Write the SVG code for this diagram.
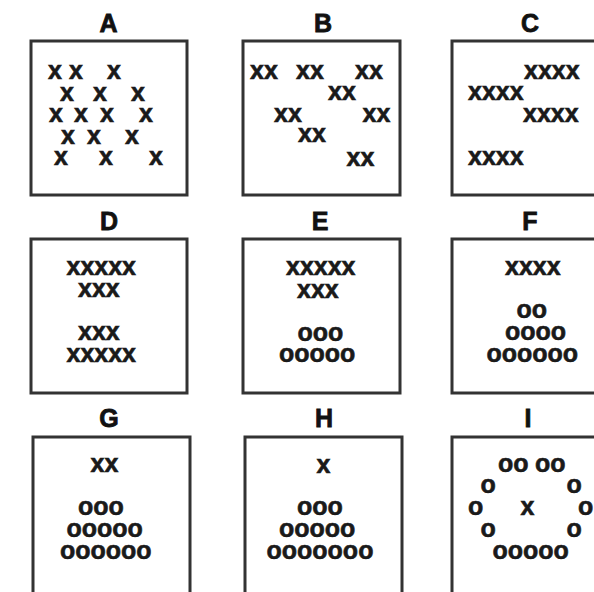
<svg xmlns="http://www.w3.org/2000/svg" width="594" height="592" viewBox="0 0 594 592">
<style>
.box{fill:#fff;stroke:#333;stroke-width:3}
.lbl{font-family:"Liberation Sans",Arial,sans-serif;font-weight:bold;font-size:25px;fill:#111;stroke:#111;stroke-width:0.8;text-anchor:middle}
.m{font-family:"Liberation Sans",Arial,sans-serif;font-weight:bold;font-size:25px;fill:#1a1a1a;stroke:#1a1a1a;stroke-width:0.6}
</style>
<rect width="594" height="592" fill="#fff"/>
<g id="panel-A">
<text class="lbl" x="108.5" y="32">A</text>
<rect class="box" x="31" y="41" width="156" height="154"/>
<text class="m" x="48" y="78.5">x</text><text class="m" x="69" y="78.5">x</text><text class="m" x="107" y="78.5">x</text>
<text class="m" x="60" y="100.5">x</text><text class="m" x="93" y="100.5">x</text><text class="m" x="131" y="100.5">x</text>
<text class="m" x="49" y="122">x</text><text class="m" x="74" y="122">x</text><text class="m" x="100" y="122">x</text><text class="m" x="139" y="122">x</text>
<text class="m" x="61" y="143.5">x</text><text class="m" x="87" y="143.5">x</text><text class="m" x="125" y="143.5">x</text>
<text class="m" x="54" y="165">x</text><text class="m" x="99" y="165">x</text><text class="m" x="149" y="165">x</text>
</g>
<g id="panel-B">
<text class="lbl" x="323" y="32">B</text>
<rect class="box" x="243" y="41" width="157" height="154"/>
<text class="m" x="250" y="78.5">xx</text><text class="m" x="296" y="78.5">xx</text><text class="m" x="355" y="78.5">xx</text>
<text class="m" x="328" y="100">xx</text>
<text class="m" x="274" y="121.5">xx</text><text class="m" x="362.5" y="121.5">xx</text>
<text class="m" x="298" y="141.5">xx</text>
<text class="m" x="346.5" y="166">xx</text>
</g>
<g id="panel-C">
<text class="lbl" x="530" y="32">C</text>
<rect class="box" x="452" y="41" width="157" height="154"/>
<text class="m" x="524" y="78.5">xxxx</text>
<text class="m" x="468" y="100">xxxx</text>
<text class="m" x="523" y="121.5">xxxx</text>
<text class="m" x="468" y="165">xxxx</text>
</g>
<g id="panel-D">
<text class="lbl" x="109" y="230">D</text>
<rect class="box" x="31" y="239" width="156" height="154"/>
<text class="m" x="66.5" y="275">xxxxx</text>
<text class="m" x="78" y="296.5">xxx</text>
<text class="m" x="78" y="340">xxx</text>
<text class="m" x="66.5" y="362">xxxxx</text>
</g>
<g id="panel-E">
<text class="lbl" x="320" y="230">E</text>
<rect class="box" x="243" y="239" width="157" height="154"/>
<text class="m" x="286" y="275">xxxxx</text>
<text class="m" x="297" y="297.5">xxx</text>
<text class="m" x="297.5" y="340.5">ooo</text>
<text class="m" x="279" y="362">ooooo</text>
</g>
<g id="panel-F">
<text class="lbl" x="530" y="230">F</text>
<rect class="box" x="452" y="239" width="157" height="154"/>
<text class="m" x="505" y="275">xxxx</text>
<text class="m" x="516.5" y="318">oo</text>
<text class="m" x="505" y="340">oooo</text>
<text class="m" x="486.5" y="362">oooooo</text>
</g>
<g id="panel-G">
<text class="lbl" x="109" y="427">G</text>
<rect class="box" x="33" y="437" width="157" height="160"/>
<text class="m" x="90.5" y="471.5">xx</text>
<text class="m" x="78" y="514.5">ooo</text>
<text class="m" x="66.5" y="536.5">ooooo</text>
<text class="m" x="60" y="558.5">oooooo</text>
</g>
<g id="panel-H">
<text class="lbl" x="324" y="427">H</text>
<rect class="box" x="245" y="437" width="157" height="160"/>
<text class="m" x="316.5" y="472.5">x</text>
<text class="m" x="297" y="514.5">ooo</text>
<text class="m" x="279" y="536.5">ooooo</text>
<text class="m" x="266.5" y="558.5">ooooooo</text>
</g>
<g id="panel-I">
<text class="lbl" x="528" y="427">I</text>
<rect class="box" x="452" y="437" width="157" height="160"/>
<text class="m" x="498" y="471.5">oo</text><text class="m" x="535" y="471.5">oo</text>
<text class="m" x="480.5" y="493">o</text><text class="m" x="566.5" y="493">o</text>
<text class="m" x="468" y="514.5">o</text><text class="m" x="520.5" y="514.5">x</text><text class="m" x="578" y="514.5">o</text>
<text class="m" x="480.5" y="536.5">o</text><text class="m" x="566.5" y="536.5">o</text>
<text class="m" x="492.5" y="558.5">ooooo</text>
</g>
</svg>
